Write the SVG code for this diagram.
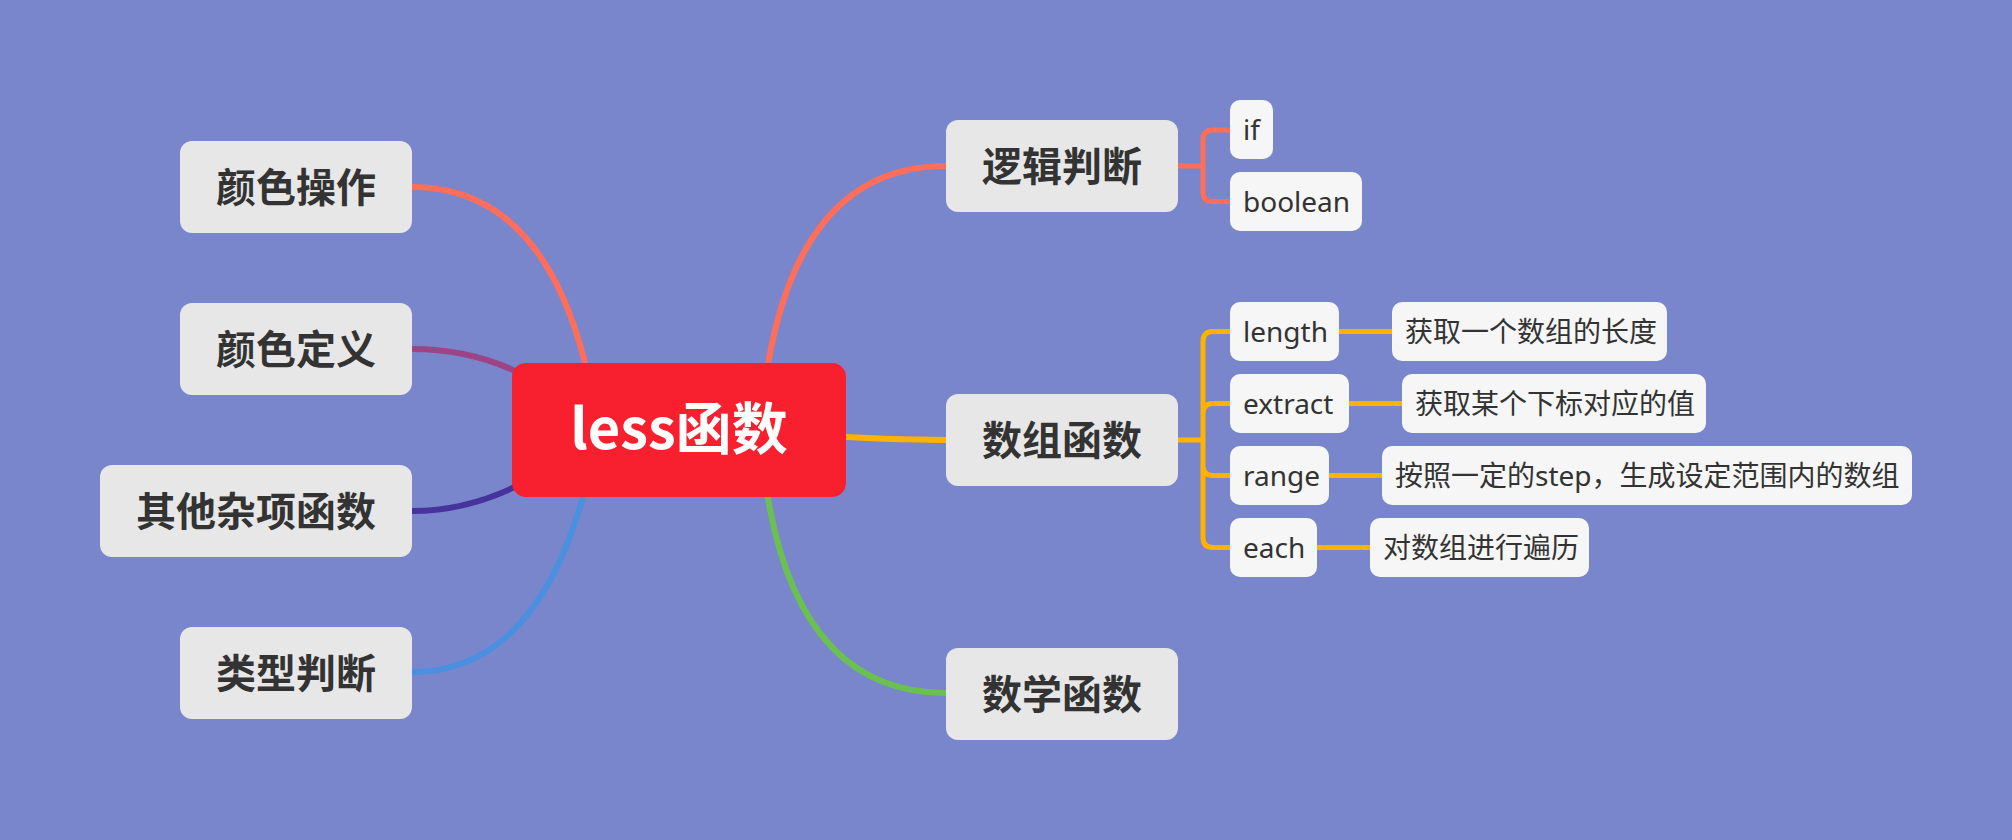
<svg xmlns="http://www.w3.org/2000/svg" width="2012" height="840" viewBox="0 0 2012 840">
<style>
.main{fill:#E7E7E7}
.sub{fill:#F6F6F6}
.mt{font-family:"Noto Sans CJK SC","Noto Sans",sans-serif;font-size:40px;font-weight:bold;fill:#333333;text-anchor:middle}
.st{font-family:"Noto Sans","Noto Sans CJK SC",sans-serif;font-size:28px;fill:#333333;text-anchor:start}
.c{fill:none;stroke-width:6;stroke-linecap:round}
.b{fill:none;stroke-width:5}
</style>
<rect width="2012" height="840" fill="#7986CB"/>
<g id="connectors">
<path class="c" stroke="#FF6E5A" d="M598,430 Q563,187 412,187"/>
<path class="c" stroke="#9C4485" d="M598,430 Q518,349 412,349"/>
<path class="c" stroke="#46339B" d="M598,430 Q508,511 412,511"/>
<path class="c" stroke="#4A90DE" d="M598,430 Q555,672 412,672"/>
<path class="c" stroke="#FF6E5A" d="M760,430 Q780,166 946,166"/>
<path class="c" stroke="#FFB300" d="M679,430 C800,430 830,440 946,440"/>
<path class="c" stroke="#6BC150" d="M760,430 Q778,693 946,693"/>
<path class="b" stroke="#FF6E5A" d="M1178,166 H1203 M1230,130 H1213 Q1203,130 1203,140 V191.5 Q1203,201.5 1213,201.5 H1230"/>
<path class="b" stroke="#FFB300" d="M1178,440 H1203 M1230,331.5 H1213 Q1203,331.5 1203,341.5 V537.5 Q1203,547.5 1213,547.5 H1230 M1230,403.5 H1213 Q1203,403.5 1203,413.5 M1230,475.5 H1213 Q1203,475.5 1203,465.5"/>
<path class="b" stroke="#FFB300" d="M1339,331.5 H1392 M1349,403.5 H1402 M1329,475.5 H1382 M1317,547.5 H1370"/>
</g>
<g id="root">
<rect x="512" y="363" width="334" height="134" rx="14" fill="#F8202F"/>
<text x="679" y="449" style="font-family:'Noto Sans CJK SC','Noto Sans',sans-serif;font-size:56px;font-weight:bold;fill:#FFFFFF;text-anchor:middle">less函数</text>
</g>
<g id="n-color-op"><rect class="main" x="180" y="141" width="232" height="92" rx="12"/><text class="mt" x="296" y="202">颜色操作</text></g>
<g id="n-color-def"><rect class="main" x="180" y="303" width="232" height="92" rx="12"/><text class="mt" x="296" y="364">颜色定义</text></g>
<g id="n-misc"><rect class="main" x="100" y="465" width="312" height="92" rx="12"/><text class="mt" x="256" y="526">其他杂项函数</text></g>
<g id="n-type"><rect class="main" x="180" y="627" width="232" height="92" rx="12"/><text class="mt" x="296" y="688">类型判断</text></g>
<g id="n-logic"><rect class="main" x="946" y="120" width="232" height="92" rx="12"/><text class="mt" x="1062" y="181">逻辑判断</text></g>
<g id="n-array"><rect class="main" x="946" y="394" width="232" height="92" rx="12"/><text class="mt" x="1062" y="455">数组函数</text></g>
<g id="n-math"><rect class="main" x="946" y="648" width="232" height="92" rx="12"/><text class="mt" x="1062" y="709">数学函数</text></g>
<g id="n-if"><rect class="sub" x="1230" y="100" width="43" height="59" rx="10"/><text class="st" x="1243" y="140">if</text></g>
<g id="n-boolean"><rect class="sub" x="1230" y="172" width="132" height="59" rx="10"/><text class="st" x="1243" y="211.5">boolean</text></g>
<g id="n-length"><rect class="sub" x="1230" y="302" width="109" height="59" rx="10"/><text class="st" x="1243" y="341.5">length</text></g>
<g id="n-extract"><rect class="sub" x="1230" y="374" width="119" height="59" rx="10"/><text class="st" x="1243" y="413.5">extract</text></g>
<g id="n-range"><rect class="sub" x="1230" y="446" width="99" height="59" rx="10"/><text class="st" x="1243" y="485.5">range</text></g>
<g id="n-each"><rect class="sub" x="1230" y="518" width="87" height="59" rx="10"/><text class="st" x="1243" y="557.5">each</text></g>
<g id="d-length"><rect class="sub" x="1392" y="302" width="275" height="59" rx="10"/><text class="st" x="1405" y="341.5">获取一个数组的长度</text></g>
<g id="d-extract"><rect class="sub" x="1402" y="374" width="304" height="59" rx="10"/><text class="st" x="1415" y="413.5">获取某个下标对应的值</text></g>
<g id="d-range"><rect class="sub" x="1382" y="446" width="530" height="59" rx="10"/><text class="st" x="1395" y="485.5">按照一定的step，生成设定范围内的数组</text></g>
<g id="d-each"><rect class="sub" x="1370" y="518" width="219" height="59" rx="10"/><text class="st" x="1383" y="557.5">对数组进行遍历</text></g>
</svg>
